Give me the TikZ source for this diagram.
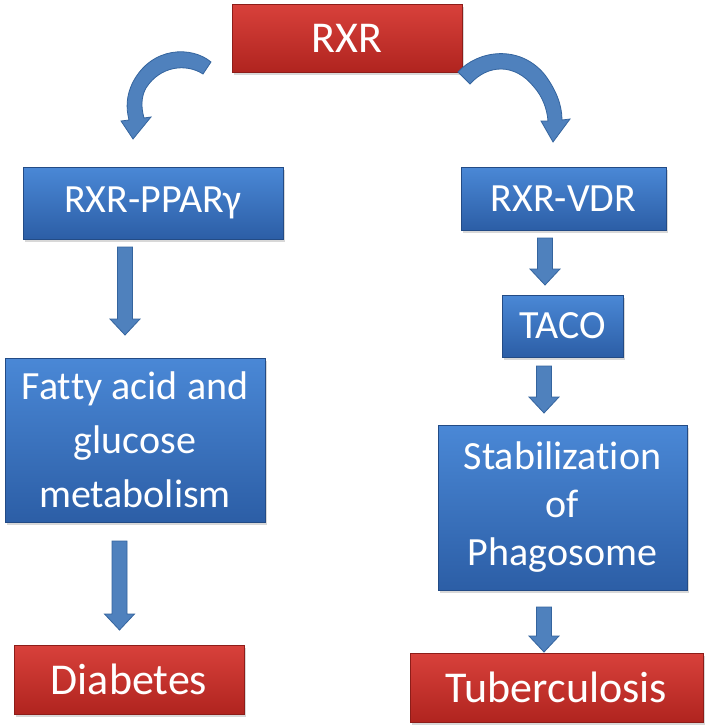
\documentclass[tikz,border=0pt]{standalone}
\usepackage{fontspec}
\setmainfont{Carlito}[Ligatures=NoCommon]
\usetikzlibrary{calc,shadows}
\definecolor{redtop}{HTML}{D8413B}
\definecolor{redbot}{HTML}{B0241F}
\definecolor{bluetop}{HTML}{4A88D6}
\definecolor{bluebot}{HTML}{2C5EA6}
\definecolor{arrfill}{HTML}{4F81BD}
\definecolor{arrline}{HTML}{34649E}
\tikzset{
  box/.style={rectangle, inner sep=0pt, align=center, text=white,
    drop shadow={shadow xshift=1.5pt, shadow yshift=-2.5pt, opacity=0.3}},
  redbox/.style={box, top color=redtop, bottom color=redbot, draw=redbot!80!black, line width=0.4pt,
    font=\fontsize{44}{50}\selectfont},
  bluebox/.style={box, top color=bluetop, bottom color=bluebot, draw=bluebot!80!black, line width=0.4pt,
    font=\fontsize{40}{54}\selectfont},
  blkarrow/.style={fill=arrfill, draw=arrline, line width=0.8pt, line join=miter},
}
\newcommand{\blockarrow}[2]{%
  \draw[blkarrow] let \p1=(#1), \p2=(#2) in
    (\x1-7.5pt,\y1) -- (\x1+7.5pt,\y1) -- (\x1+7.5pt,\y2+16pt) -- (\x1+15pt,\y2+16pt)
    -- (\x2,\y2) -- (\x1-15pt,\y2+16pt) -- (\x1-7.5pt,\y2+16pt) -- cycle;}
\begin{document}
\begin{tikzpicture}[x=1pt,y=-1pt]
\useasboundingbox[fill=white] (0,0) rectangle (708,728);

% boxes
\node[redbox, minimum width=230pt, minimum height=68pt] (rxr) at (347,38) {RXR};
\node[bluebox, minimum width=260pt, minimum height=72pt] (ppar) at (153,203) {RXR-PPARγ};
\node[bluebox, minimum width=260pt, minimum height=164pt] (fatty) at (135,440) {Fat\kern0pt t\kern0pt y acid and\\glucose\\metabolism};
\node[redbox, minimum width=230pt, minimum height=69pt] (diab) at (129,679.5) {Diabetes};
\node[bluebox, minimum width=205pt, minimum height=63pt] (vdr) at (563.5,198.5) {RXR-VDR};
\node[bluebox, minimum width=121pt, minimum height=62pt] (taco) at (562.5,326) {TACO};
\node[bluebox, minimum width=249pt, minimum height=165pt, font=\fontsize{40}{48}\selectfont] (stab) at (562.5,507.5) {Stabilizat\kern0pt ion\\of\\Phagosome};
\node[redbox, minimum width=293pt, minimum height=69pt] (tb) at (556.5,687.5) {Tuberculosis};

% block arrow end points
\coordinate (a1s) at (125,247);   \coordinate (a1e) at (125,335);
\coordinate (a2s) at (119.5,541); \coordinate (a2e) at (119.5,630);
\coordinate (a3s) at (545,238);   \coordinate (a3e) at (545,285);
\coordinate (a4s) at (544,366);   \coordinate (a4e) at (544,413);
\coordinate (a5s) at (544,607);   \coordinate (a5e) at (544,652);

\blockarrow{a1s}{a1e}
\blockarrow{a2s}{a2e}
\blockarrow{a3s}{a3e}
\blockarrow{a4s}{a4e}
\blockarrow{a5s}{a5e}

% curved arrows from RXR
\draw[blkarrow] (211,62) .. controls (192,46) and (152,46) .. (133,82)
  .. controls (126,96) and (126,108) .. (129,120) -- (121,121) -- (133,139) -- (151,117) -- (144,118)
  .. controls (141,107) and (141,97) .. (146,88)
  .. controls (160,66) and (186,63) .. (203,74) -- cycle;
\draw[blkarrow] (458,72) .. controls (478,50) and (520,44) .. (545,75)
  .. controls (556,90) and (562,105) .. (562,120) -- (570,119) -- (553,142) -- (541,121) -- (548,121)
  .. controls (547,108) and (542,96) .. (534,87)
  .. controls (515,63) and (488,64) .. (470,84) -- cycle;
\end{tikzpicture}
\end{document}
